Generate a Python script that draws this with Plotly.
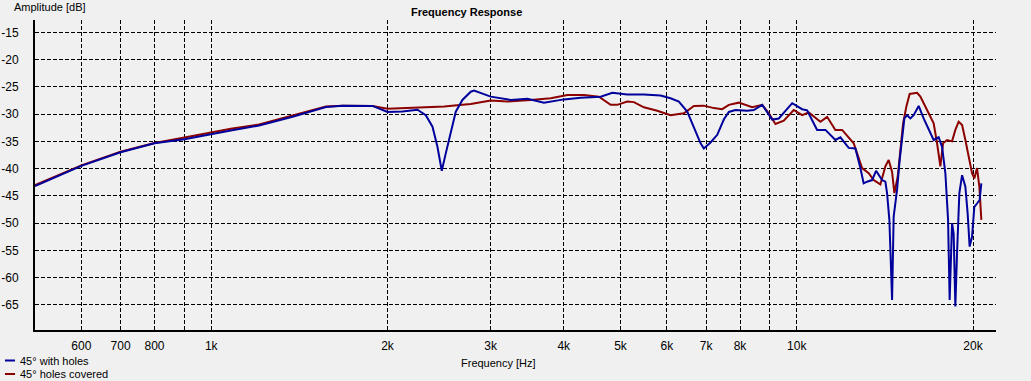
import plotly.graph_objects as go
import math

# ---------------- data ----------------
freq_holes = [500, 600, 700, 800, 900, 1000, 1080, 1207, 1377, 1570, 1676, 1885, 1950, 2000,
              2121, 2250, 2325, 2387, 2434, 2476, 2515, 2565, 2616, 2685, 2775, 2811, 3001,
              3246, 3467, 3701, 4003, 4275, 4624, 4842, 5135, 5482, 5852, 6087, 6290, 6501,
              6673, 6851, 6939, 7124, 7315, 7506, 7656, 7858, 8229, 8445, 8729, 9080, 9318,
              9822, 10214, 10416, 10834, 11194, 11641, 11873, 12265, 12594, 12843, 13010,
              13185, 13448, 13661, 13986, 14169, 14264, 14394, 14491, 14548, 14639, 14835,
              14990, 15132, 15269, 15432, 15632, 15838, 16152, 16471, 16801, 17133, 17473,
              17708, 17941, 18132, 18245, 18418, 18534, 18658, 18783, 18954, 19160, 19408,
              19583, 19737, 19924, 20104, 20318, 20528, 20666]
db_holes = [-43.2, -39.5, -37.0, -35.35, -34.6, -33.6, -33.0, -32.1, -30.5, -28.7, -28.45, -28.5,
            -29.2, -29.6, -29.5, -29.2, -30.2, -32.3, -36.0, -40.4, -37.2, -33.5, -29.55, -27.4,
            -25.9, -25.7, -26.8, -27.4, -27.2, -27.9, -27.3, -27.0, -26.8, -26.1, -26.4, -26.4,
            -26.6, -27.1, -27.7, -29.55, -32.3, -35.35, -36.3, -35.2, -33.8, -31.0, -29.6,
            -29.25, -29.4, -29.25, -28.3, -31.0, -30.8, -28.0, -29.1, -29.3, -32.9, -32.9,
            -34.75, -34.25, -36.2, -36.3, -39.9, -42.7, -42.4, -42.1, -40.4, -42.1, -42.4,
            -44.5, -49.4, -60.4, -64.1, -48.8, -43.9, -38.4, -34.75, -30.8, -30.2, -30.8,
            -30.2, -28.5, -30.8, -32.9, -34.75, -34.25, -36.0, -40.85, -49.4, -64.1, -50.0,
            -51.9, -65.3, -55.5, -44.5, -41.2, -43.3, -48.2, -54.3, -52.5, -47.0, -46.4,
            -45.75, -42.7]

freq_covered = [500, 600, 700, 800, 900, 1000, 1080, 1207, 1377, 1570, 1676, 1885, 2000, 2121,
                2250, 2500, 2685, 2775, 3001, 3204, 3513, 3800, 4058, 4331, 4594, 4685, 4809,
                4937, 5135, 5271, 5482, 5777, 6087, 6416, 6673, 6939, 7219, 7459, 7656, 7962,
                8393, 8729, 8959, 9196, 9502, 9883, 10214, 10483, 10975, 11269, 11641, 11953,
                12510, 12929, 13270, 13532, 13893, 14169, 14355, 14548, 14680, 14873, 15031,
                15192, 15390, 15589, 16051, 16260, 16693, 17133, 17364, 17590, 17777, 18061,
                18418, 18658, 18904, 19160, 19408, 19660, 19924, 20104, 20318, 20505, 20666]
db_covered = [-43.0, -39.4, -36.9, -35.3, -34.3, -33.3, -32.7, -31.9, -30.2, -28.6, -28.45, -28.5,
              -29.0, -28.9, -28.75, -28.6, -28.3, -28.15, -27.5, -27.7, -27.4, -27.1, -26.5,
              -26.5, -26.8, -27.5, -28.3, -28.3, -27.7, -27.8, -28.75, -29.4, -30.2, -29.85,
              -28.5, -28.45, -28.9, -29.1, -28.3, -27.9, -28.75, -28.3, -29.85, -31.8, -31.2,
              -29.25, -30.2, -29.7, -31.4, -30.5, -32.9, -32.9, -35.35, -39.9, -40.85, -42.1,
              -42.9, -39.6, -38.4, -40.6, -44.5, -41.5, -36.0, -31.7, -28.6, -26.3, -26.1,
              -26.8, -29.25, -31.7, -35.35, -39.6, -35.35, -34.75, -35.0, -32.9, -31.4, -32.0,
              -34.75, -37.8, -40.85, -41.8, -39.9, -43.3, -49.4]

x_tick_vals = [600, 700, 800, 900, 1000, 2000, 3000, 4000, 5000, 6000, 7000, 8000, 9000, 10000, 20000]
x_tick_text = ["600", "700", "800", "", "1k", "2k", "3k", "4k", "5k", "6k", "7k", "8k", "", "10k", "20k"]
y_tick_vals = [-15, -20, -25, -30, -35, -40, -45, -50, -55, -60, -65]

series_names = ["45° with holes", "45° holes covered"]
series_colors = ["#00009C", "#8C0000"]

# ---------------- layout helpers ----------------
W, H = 1031, 381
ML, MR, MT, MB = 35, 35, 20, 51
PW, PH = W - ML - MR, H - MT - MB
FONT = "Liberation Sans, Arial, sans-serif"


def px(xp):
    return (xp - ML) / PW


def py(yp):
    return (H - MB - yp) / PH


fig = go.Figure()
fig.add_trace(go.Scatter(x=freq_covered, y=db_covered, mode="lines",
                         line=dict(color=series_colors[1], width=2), name=series_names[1]))
fig.add_trace(go.Scatter(x=freq_holes, y=db_holes, mode="lines",
                         line=dict(color=series_colors[0], width=2), name=series_names[0]))

fig.update_layout(
    width=W, height=H,
    margin=dict(l=ML, r=MR, t=MT, b=MB, autoexpand=False),
    paper_bgcolor="#F0F0F0", plot_bgcolor="#F0F0F0",
    showlegend=False,
    font=dict(family=FONT, size=11, color="black"),
)
fig.update_xaxes(
    type="log", range=[math.log10(500), 4.3403], automargin=False,
    tickvals=x_tick_vals, ticktext=x_tick_text,
    showgrid=True, gridcolor="black", gridwidth=1, griddash="4px,2px",
    showline=True, linecolor="black", linewidth=2, mirror=False,
    ticks="", ticklabelstandoff=4, zeroline=False,
    tickfont=dict(family=FONT, size=12, color="black"),
)
fig.update_yaxes(
    range=[-69.6, -12.74], automargin=False,
    tickvals=y_tick_vals, ticktext=[str(v) for v in y_tick_vals],
    showgrid=True, gridcolor="black", gridwidth=1, griddash="4px,2px",
    showline=True, linecolor="black", linewidth=2, mirror=False,
    ticks="", ticklabelstandoff=12, zeroline=False,
    tickfont=dict(family=FONT, size=12, color="black"),
)

annotations = [
    dict(text="<b>Frequency Response</b>", x=px(466), y=py(11.5), xanchor="center", yanchor="middle",
         font=dict(size=11)),
    dict(text="Amplitude [dB]", x=px(12), y=py(7), xanchor="left", yanchor="middle", font=dict(size=11)),
    dict(text="Frequency [Hz]", x=px(498), y=py(363), xanchor="center", yanchor="middle", font=dict(size=11)),
]
shapes = []
legend_y = [360.5, 374]
for name, color, ly in zip(series_names, series_colors, legend_y):
    annotations.append(dict(text=name, x=px(18), y=py(ly), xanchor="left", yanchor="middle",
                            font=dict(size=11)))
    shapes.append(dict(type="line", xref="paper", yref="paper", x0=px(5), x1=px(15), y0=py(ly), y1=py(ly),
                       line=dict(color=color, width=2)))
for a in annotations:
    a.update(xref="paper", yref="paper", showarrow=False)
fig.update_layout(annotations=annotations, shapes=shapes)

fig.write_html("out.html",
               config={"displayModeBar": False},
               post_script="document.body.style.margin='0';document.body.style.background='#F0F0F0';")
